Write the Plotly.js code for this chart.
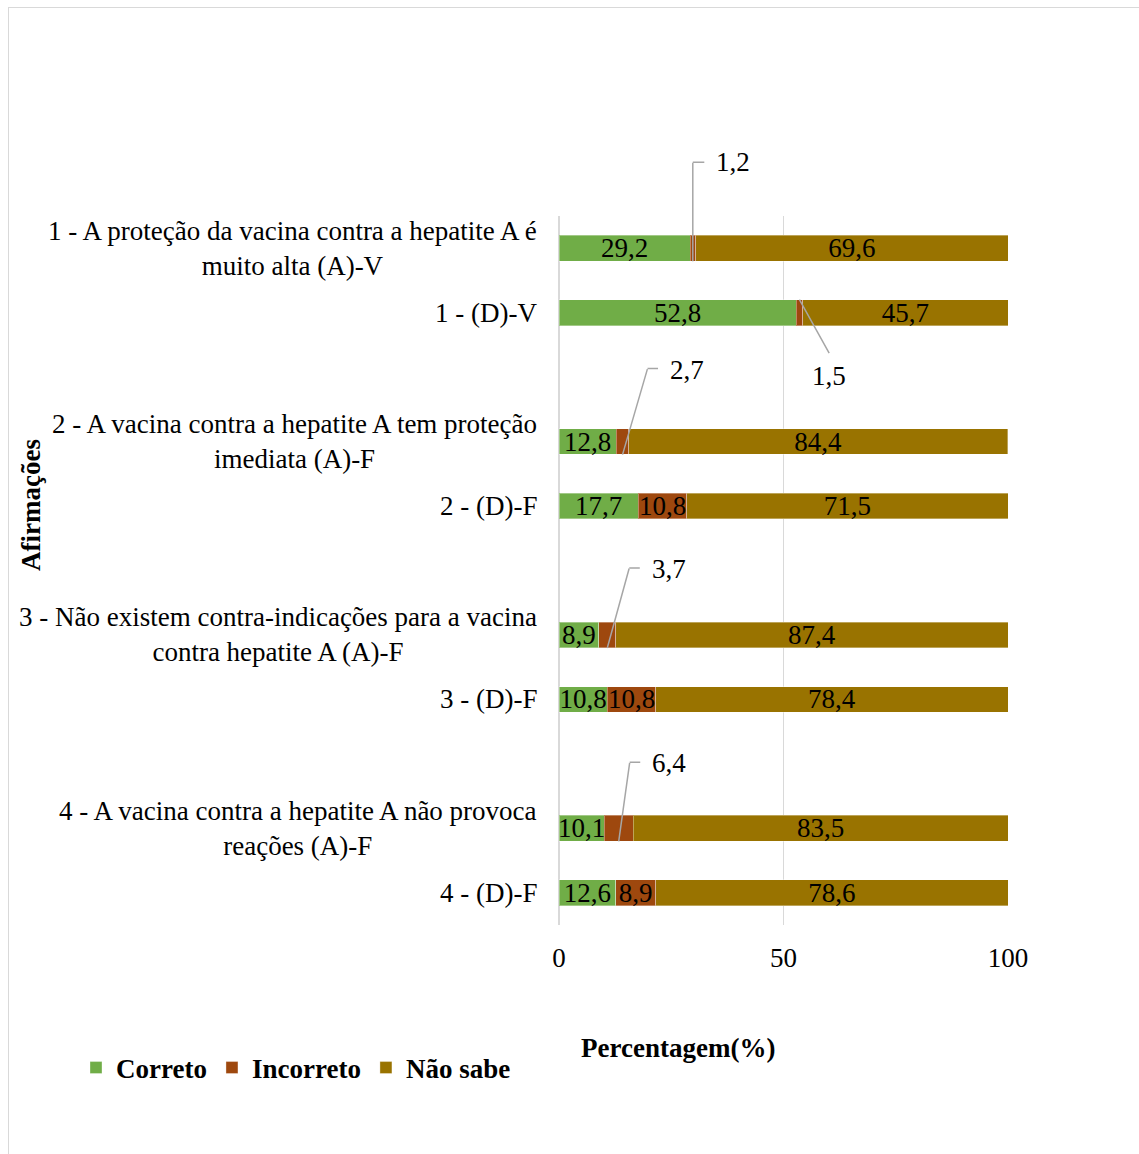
<!DOCTYPE html>
<html>
<head>
<meta charset="utf-8">
<script src="https://cdn.plot.ly/plotly-3.0.1.min.js"></script>
<style>
  html, body { margin: 0; padding: 0; background: #fff; }
  #wrap { position: relative; width: 1139px; height: 1154px; overflow: hidden; }
  #frame { position: absolute; left: 8px; top: 7px; width: 1200px; height: 1200px;
           border: 1.5px solid #d9d9d9; box-sizing: border-box; pointer-events: none; }
  #chart { position: absolute; left: 0; top: 0; width: 1139px; height: 1154px; }
</style>
</head>
<body>
<div id="wrap">
  <div id="chart"></div>
  <div id="frame"></div>
</div>
<script>
// ---- data ----
const labels = [
  "1 - A proteção da vacina contra a hepatite A é<br>muito alta (A)-V",
  "1 - (D)-V",
  "2 - A vacina contra a hepatite A tem proteção<br>imediata (A)-F",
  "2 - (D)-F",
  "3 - Não existem contra-indicações para a vacina<br>contra hepatite A (A)-F",
  "3 - (D)-F",
  "4 - A vacina contra a hepatite A não provoca<br>reações (A)-F",
  "4 - (D)-F"
];
const correto   = [29.2, 52.8, 12.8, 17.7, 8.9, 10.8, 10.1, 12.6];
const incorreto = [1.2, 1.5, 2.7, 10.8, 3.7, 10.8, 6.4, 8.9];
const naoSabe   = [69.6, 45.7, 84.4, 71.5, 87.4, 78.4, 83.5, 78.6];
const seriesNames = ["Correto", "Incorreto", "Não sabe"];
const xTicks = [0, 50, 100];

// ---- styling ----
const colors = ["#70AD47", "#9E480E", "#997300"];
const FONT = "Liberation Serif, Times New Roman, serif";
const FS = 27;
const SMALL = 8; // values below this get a callout instead of an inside label

// slot index: pairs separated by an empty slot
const pos = labels.map((_, i) => i + Math.floor(i / 2));
const fmt = v => v.toFixed(1).replace(".", ",");

const allSeries = [correto, incorreto, naoSabe];
const traces = allSeries.map((vals, s) => ({
  type: "bar",
  orientation: "h",
  name: seriesNames[s],
  x: vals,
  y: pos,
  width: 0.4,
  marker: { color: colors[s], line: { color: "rgba(255,255,255,0.35)", width: 1 } },
  text: vals.map(v => v < SMALL ? "" : fmt(v)),
  texttemplate: "%{text}",
  textposition: "inside",
  insidetextanchor: "middle",
  textangle: 0,
  constraintext: "none",
  insidetextfont: { family: FONT, size: FS, color: "#000" },
  hoverinfo: "skip"
}));

// callout geometry: leader-line segments in pixel offsets (y up) from the segment centre
const calloutStyle = [
  { segs: [[0, -13, 0, 86], [0, 86, 12, 86]], tx: 21, ty: 86, anchor: "left" },
  { segs: [[0, 13, 30, -41]], tx: 30, ty: -63, anchor: "center" },
  { segs: [[0, -13, 25, 73], [25, 73, 36, 73]], tx: 45, ty: 72, anchor: "left" },
  { segs: [[0, -13, 22, 67], [22, 67, 33, 67]], tx: 43, ty: 66, anchor: "left" },
  { segs: [[0, -13, 11, 66], [11, 66, 22, 66]], tx: 31, ty: 65, anchor: "left" }
];

const annotations = [];

// category labels
labels.forEach((lab, i) => {
  annotations.push({
    xref: "paper", yref: "y", x: 0, y: pos[i], xanchor: "right", yanchor: "middle",
    xshift: -20, text: lab, showarrow: false, align: "center",
    font: { family: FONT, size: FS, color: "#000" }
  });
});

// callouts for small "Incorreto" values
let k = 0;
incorreto.forEach((v, i) => {
  if (v >= SMALL) return;
  const st = calloutStyle[k++];
  const cx = correto[i] + v / 2;
  st.segs.forEach(sg => {
    annotations.push({
      xref: "x", yref: "y", x: cx, y: pos[i], xshift: sg[0], yshift: sg[1],
      axref: "pixel", ayref: "pixel", ax: sg[2] - sg[0], ay: -(sg[3] - sg[1]),
      text: "", showarrow: true, arrowhead: 0, arrowwidth: 1.5, arrowcolor: "#a6a6a6",
      standoff: 0, startstandoff: 0, borderpad: 0
    });
  });
  annotations.push({
    xref: "x", yref: "y", x: cx, y: pos[i], xanchor: st.anchor, yanchor: "middle",
    xshift: st.tx, yshift: st.ty, text: fmt(v), showarrow: false,
    font: { family: FONT, size: FS, color: "#000" }
  });
});

// axis titles as annotations
annotations.push({
  xref: "paper", yref: "paper", x: (678 - 559) / 449, y: 0, yshift: -123,
  xanchor: "center", yanchor: "middle", showarrow: false,
  text: "<b>Percentagem(%)</b>", font: { family: FONT, size: FS, color: "#000" }
});
annotations.push({
  xref: "paper", yref: "paper", x: 0, xshift: -528, y: (925 - 505) / 709,
  xanchor: "center", yanchor: "middle", showarrow: false, textangle: -90,
  text: "<b>Afirmações</b>", font: { family: FONT, size: FS, color: "#000" }
});

const layout = {
  width: 1139, height: 1154,
  margin: { l: 559, r: 131, t: 216, b: 229, pad: 0 },
  paper_bgcolor: "rgba(0,0,0,0)", plot_bgcolor: "rgba(0,0,0,0)",
  barmode: "stack",
  bargap: 0,
  separators: ",.",
  font: { family: FONT, size: FS, color: "#000" },
  showlegend: true,
  legend: {
    orientation: "h", x: (76 - 559) / 449, xanchor: "left",
    y: (925 - 1068) / 709, yanchor: "middle",
    font: { family: FONT, size: FS, color: "#000", weight: "bold" },
    traceorder: "normal", itemclick: false
  },
  xaxis: {
    range: [0, 100], tickvals: xTicks, ticktext: xTicks.map(String),
    showgrid: true, gridcolor: "#d9d9d9", gridwidth: 1.5,
    zeroline: true, zerolinecolor: "#d9d9d9", zerolinewidth: 1.5,
    showline: false, ticks: "", ticklabelstandoff: 14,
    tickfont: { family: FONT, size: FS, color: "#000" }, fixedrange: true
  },
  yaxis: {
    range: [10.5, -0.5], showgrid: false, zeroline: false, showline: false,
    showticklabels: false, ticks: "", fixedrange: true
  },
  annotations: annotations
};

Plotly.newPlot("chart", traces, layout, { displayModeBar: false, staticPlot: true });
</script>
</body>
</html>
